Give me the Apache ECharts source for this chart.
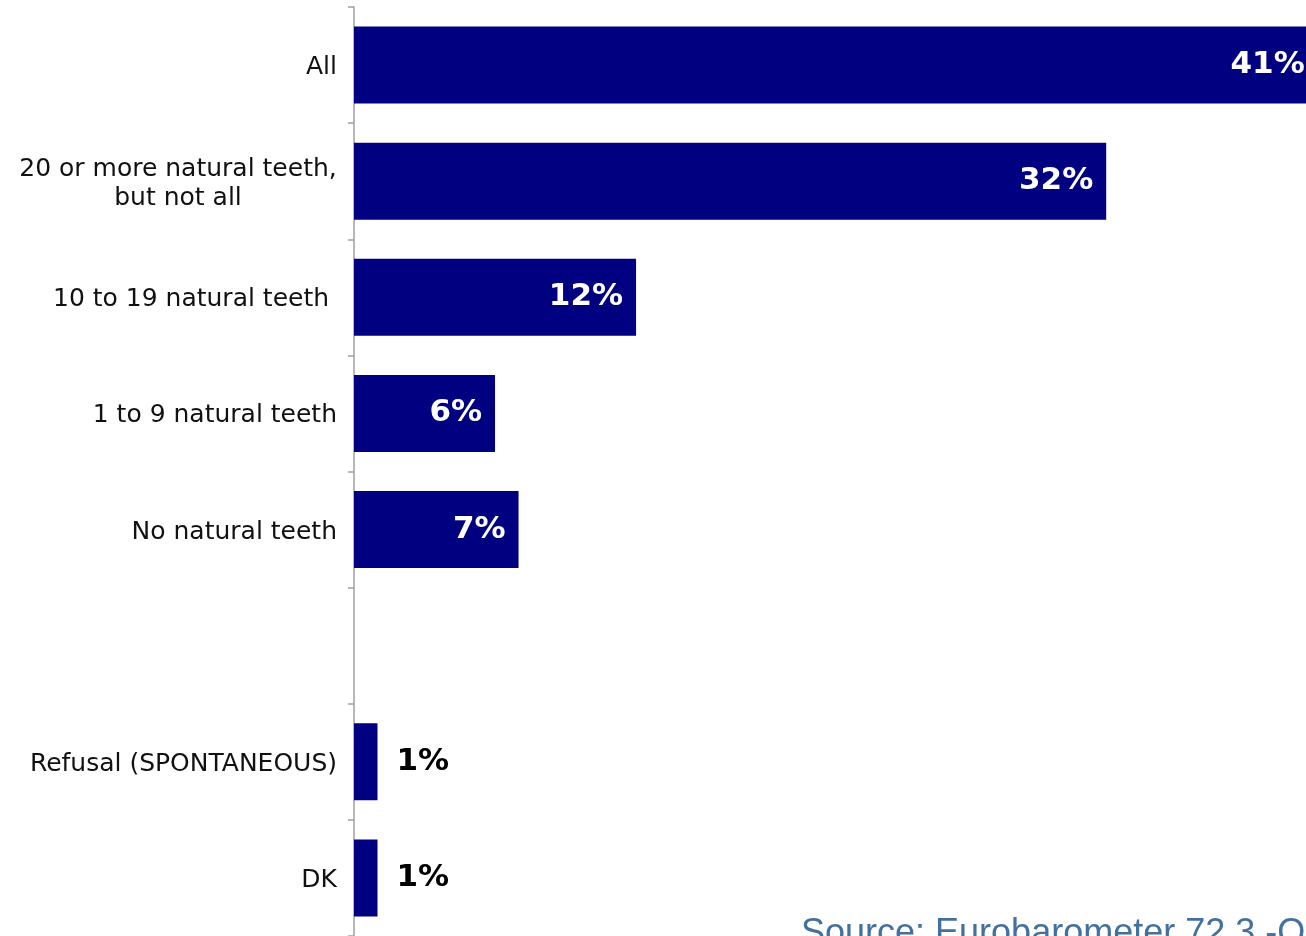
<!DOCTYPE html>
<html>
<head>
<meta charset="utf-8">
<script src="https://cdn.jsdelivr.net/npm/echarts@6/dist/echarts.min.js"></script>
<style>
  html, body { margin: 0; padding: 0; background: #fff; }
  #chart { width: 1306px; height: 936px; }
</style>
</head>
<body>
<div id="chart"></div>
<script>
// ---- data ----
const categories = [
  'All',
  '20 or more natural teeth,\nbut not all',
  '10 to 19 natural teeth ',
  '1 to 9 natural teeth',
  'No natural teeth',
  '',
  'Refusal (SPONTANEOUS)',
  'DK'
];
const values = [41, 32, 12, 6, 7, null, 1, 1];
const sourceText = 'Source: Eurobarometer 72.3 -QD1';

// ---- styling helpers ----
const labelFont = 'DejaVu Sans';
const labelSize = 25;
const ctx = document.createElement('canvas').getContext('2d');
ctx.font = labelSize + 'px "' + labelFont + '"';
const twoLineWidth = Math.ceil(ctx.measureText('20 or more natural teeth,').width);

const seriesData = values.map(function (v) {
  if (v === null) return { value: null };
  if (v < 3) {
    return {
      value: v,
      label: { position: 'right', distance: 19, color: '#000' }
    };
  }
  return { value: v };
});

const chart = echarts.init(document.getElementById('chart'), null, { renderer: 'canvas' });
chart.setOption({
  animation: false,
  backgroundColor: '#fff',
  grid: { left: 354, top: 7, right: 0, height: 930, containLabel: false },
  xAxis: {
    type: 'value', min: 0, max: 40.5, show: false
  },
  yAxis: {
    type: 'category',
    inverse: true,
    data: categories,
    axisLine: { show: true, lineStyle: { color: '#a0a0a0', width: 1.5 } },
    axisTick: { show: true, length: 6, lineStyle: { color: '#a0a0a0', width: 1.5 } },
    axisLabel: {
      margin: 17,
      color: '#111',
      fontFamily: labelFont,
      fontSize: labelSize,
      lineHeight: 29,
      padding: [5, 0, 0, 0],
      formatter: function (val) {
        if (val.indexOf('\n') >= 0) {
          return val.split('\n').map(function (s) { return '{c|' + s + '}'; }).join('\n');
        }
        return val;
      },
      rich: {
        c: {
          width: twoLineWidth, align: 'center',
          fontFamily: labelFont, fontSize: labelSize, color: '#111', lineHeight: 29
        }
      }
    },
    splitLine: { show: false }
  },
  series: [{
    type: 'bar',
    data: seriesData,
    barWidth: 77,
    clip: false,
    itemStyle: { color: '#000080' },
    label: {
      show: true,
      position: 'insideRight',
      distance: 13,
      formatter: '{c}%',
      color: '#fff',
      fontFamily: 'DejaVu Sans',
      fontWeight: 'bold',
      fontSize: 31
    }
  }],
  graphic: [{
    type: 'text',
    left: 801,
    top: 916,
    style: {
      text: sourceText,
      fill: '#44709e',
      font: '36px "Liberation Sans"'
    }
  }]
});
</script>
</body>
</html>
